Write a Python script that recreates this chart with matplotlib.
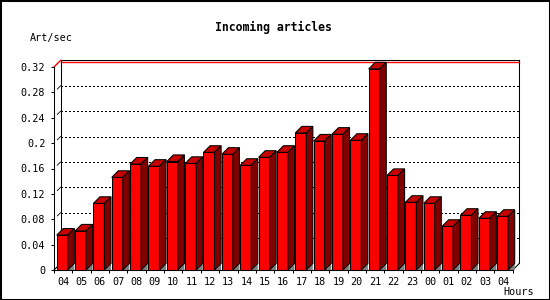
import matplotlib
matplotlib.use("Agg")
import matplotlib.pyplot as plt
from matplotlib.patches import Polygon, Rectangle
import numpy as np

hours = ["04", "05", "06", "07", "08", "09", "10", "11", "12", "13", "14", "15", "16",
         "17", "18", "19", "20", "21", "22", "23", "00", "01", "02", "03", "04"]
values = [0.055, 0.0615, 0.105, 0.146, 0.167, 0.1635, 0.171, 0.168, 0.1855, 0.1824,
          0.165, 0.1776, 0.1855, 0.216, 0.2033, 0.214, 0.2044, 0.317, 0.149, 0.1067,
          0.105, 0.0688, 0.0862, 0.0814, 0.0846]
yticks = [0, 0.04, 0.08, 0.12, 0.16, 0.2, 0.24, 0.28, 0.32]
ytick_labels = ["0", "0.04", "0.08", "0.12", "0.16", "0.2", "0.24", "0.28", "0.32"]
title = "Incoming articles"
ylabel = "Art/sec"
xlabel = "Hours"

W, H = 550, 300
fig = plt.figure(figsize=(W / 100, H / 100), dpi=100)
fig.patch.set_facecolor("white")
x0, x1 = 54, 512.75
y0, y1 = 270, 67
ax = fig.add_axes([x0 / W, (H - y0) / H, (x1 - x0) / W, (y0 - y1) / H])
n = len(values)
ax.set_xlim(-0.5, n - 0.5)
ax.set_ylim(0, 0.32)
for s in ax.spines.values():
    s.set_visible(False)
ax.patch.set_alpha(0)

px_x = (n) / (x1 - x0)       # data units per pixel in x
px_y = 0.32 / (y0 - y1)      # data units per pixel in y
depth = 6.6
dx = depth * px_x
dy = depth * px_y
lw = 0.75
mono = "DejaVu Sans Mono"
dots = (1.0, 2.0)

xl, xr = -0.5, n - 0.5
top = 0.32
# back wall gridlines
for v in yticks[1:-1]:
    ax.plot([xl + dx, xr + dx], [v + dy, v + dy], color="black", lw=lw,
            dashes=dots, clip_on=False, zorder=1, antialiased=False)
    ax.plot([xl + 0.5 * dx, xl + dx], [v + 0.5 * dy, v + dy], color="black", lw=0.6,
            clip_on=False, zorder=1)
# frame of the 3D box
ax.plot([xl + dx, xr + dx], [top + dy, top + dy], color="black", lw=lw, clip_on=False, zorder=2)
ax.plot([xl + dx, xr + dx], [top + dy - 1.3 * px_y, top + dy - 1.3 * px_y], color="#FF0000",
        lw=1.0, clip_on=False, zorder=2)
ax.plot([xl, xl + dx], [top, top + dy], color="#FF0000", lw=1.0, clip_on=False, zorder=2)
ax.plot([xl, xl], [0, top], color="black", lw=lw, clip_on=False, zorder=2)
ax.plot([xl + dx, xl + dx], [dy, top + dy], color="black", lw=lw, clip_on=False, zorder=2)
ax.plot([xr + dx, xr + dx], [dy, top + dy], color="black", lw=lw, clip_on=False, zorder=2)
ax.plot([xr, xr + dx], [0, dy], color="black", lw=lw, clip_on=False, zorder=2)
ax.plot([xl, xr], [0, 0], color="black", lw=lw, clip_on=False, zorder=6)
ax.plot([xl, xl + dx], [0, dy], color="black", lw=lw, clip_on=False, zorder=2)

# bars
bw = 0.6
xs = np.arange(n) - 0.5 + 0.147
ax.bar(xs, values, width=bw, align="edge", color="#FF0000", edgecolor="black",
       linewidth=lw, zorder=4, clip_on=False)
for xa, v in zip(xs, values):
    xb = xa + bw
    ax.add_patch(Polygon([(xb, 0), (xb + dx, dy), (xb + dx, 0)], closed=True,
                         facecolor="#808080", edgecolor="none", zorder=3, clip_on=False))
    ax.add_patch(Polygon([(xa, v), (xb, v), (xb + dx, v + dy), (xa + dx, v + dy)], closed=True,
                         facecolor="#C80000", edgecolor="black", lw=lw, zorder=4, clip_on=False))
    ax.add_patch(Polygon([(xb, 0), (xb, v), (xb + dx, v + dy), (xb + dx, dy)], closed=True,
                         facecolor="#800000", edgecolor="black", lw=lw, zorder=4, clip_on=False))

# ticks
ax.set_yticks(yticks)
ax.set_yticklabels(ytick_labels, family=mono, fontsize=7.3)
ax.tick_params(axis="y", direction="out", length=2.3, width=lw, pad=4)
ax.set_xticks(np.arange(n))
ax.set_xticklabels(hours, family=mono, fontsize=7.3)
ax.set_xticks(np.arange(n + 1) - 0.5, minor=True)
ax.tick_params(axis="x", which="major", length=0, pad=5)
ax.tick_params(axis="x", which="minor", direction="out", length=2.3, width=lw)

fig.text(273.7 / W, 1 - 27 / H, title, ha="center", va="center", family=mono,
         fontweight="bold", fontsize=8.3)
fig.text(30 / W, 1 - 38 / H, ylabel, ha="left", va="center", family=mono, fontsize=7.3)
fig.text(519 / W, 1 - 292 / H, xlabel, ha="center", va="center", family=mono, fontsize=7.3)

fig.patches.append(Rectangle((0, 0), 1, 1, transform=fig.transFigure, fill=False,
                             edgecolor="black", lw=2.2))
fig.savefig("out.png", dpi=100)
